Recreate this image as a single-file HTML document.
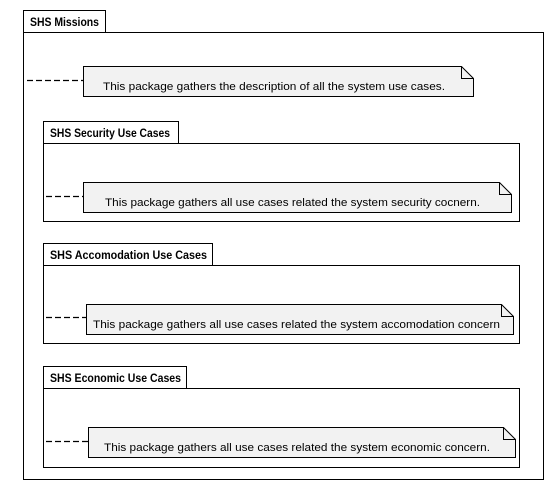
<!DOCTYPE html>
<html><head><meta charset="utf-8"><style>
html,body{margin:0;padding:0;background:#fff;width:554px;height:491px;overflow:hidden}
svg text{font-family:"Liberation Sans",sans-serif;font-size:11px;fill:#000}
.b{font-weight:bold;font-size:11.5px}
</style></head><body>
<svg width="554" height="491" viewBox="0 0 554 491" xmlns="http://www.w3.org/2000/svg">
<g fill="#fff" stroke="#000" stroke-width="1">
<rect x="23.5" y="10.5" width="82" height="22"/>
<rect x="23.5" y="32.5" width="520" height="447"/>
<path d="M83.5 66.5 H461.5 L473.5 78.5 V96.5 H83.5 Z" fill="#f2f2f2"/>
<path d="M461.5 66.5 V78.5 H473.5" fill="none"/>
<rect x="43.5" y="121.5" width="135" height="22"/>
<rect x="43.5" y="143.5" width="476" height="78"/>
<path d="M83.5 182.5 H499.5 L511.5 194.5 V212.5 H83.5 Z" fill="#f2f2f2"/>
<path d="M499.5 182.5 V194.5 H511.5" fill="none"/>
<rect x="43.5" y="243.5" width="169" height="22"/>
<rect x="43.5" y="265.5" width="476" height="78"/>
<path d="M86.5 304.5 H501.5 L513.5 316.5 V334.5 H86.5 Z" fill="#f2f2f2"/>
<path d="M501.5 304.5 V316.5 H513.5" fill="none"/>
<rect x="43.5" y="366.5" width="143" height="22"/>
<rect x="43.5" y="388.5" width="476" height="79"/>
<path d="M88.5 427.5 H503.5 L515.5 439.5 V457.5 H88.5 Z" fill="#f2f2f2"/>
<path d="M503.5 427.5 V439.5 H515.5" fill="none"/>
</g>
<g stroke="#000" stroke-width="1.3" stroke-dasharray="6,3">
<line x1="27" y1="80.5" x2="83" y2="80.5"/>
<line x1="46" y1="196.5" x2="83" y2="196.5"/>
<line x1="46" y1="317.5" x2="86" y2="317.5"/>
<line x1="46" y1="441.5" x2="88" y2="441.5"/>
</g>
<text class="b" x="30" y="26" textLength="69" lengthAdjust="spacingAndGlyphs">SHS Missions</text>
<text class="b" x="50" y="137" textLength="120" lengthAdjust="spacingAndGlyphs">SHS Security Use Cases</text>
<text class="b" x="50" y="259" textLength="157" lengthAdjust="spacingAndGlyphs">SHS Accomodation Use Cases</text>
<text class="b" x="50" y="382" textLength="131" lengthAdjust="spacingAndGlyphs">SHS Economic Use Cases</text>
<text x="103" y="90" textLength="342" lengthAdjust="spacingAndGlyphs">This package gathers the description of all the system use cases.</text>
<text x="105" y="206" textLength="375" lengthAdjust="spacingAndGlyphs">This package gathers all use cases related the system security cocnern.</text>
<text x="93" y="328" textLength="407" lengthAdjust="spacingAndGlyphs">This package gathers all use cases related the system accomodation concern</text>
<text x="104" y="451" textLength="386" lengthAdjust="spacingAndGlyphs">This package gathers all use cases related the system economic concern.</text>
</svg>
</body></html>
